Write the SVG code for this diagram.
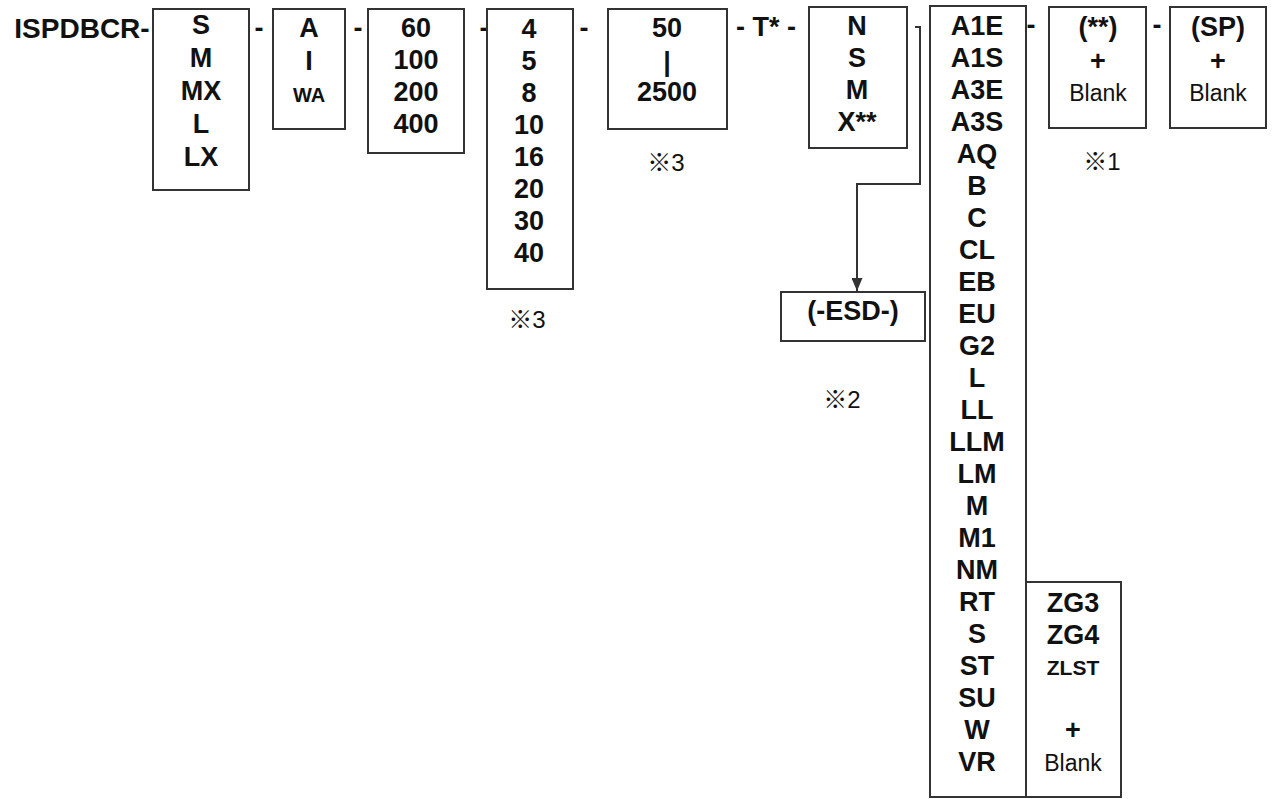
<svg xmlns="http://www.w3.org/2000/svg" width="1273" height="799" viewBox="0 0 1273 799">
<defs>
<style>
.box{fill:#fff;stroke:#333;stroke-width:2}
.b{font-family:"Liberation Sans",Arial,sans-serif;font-weight:bold;font-size:27px;fill:#111;text-anchor:middle}
.bs{font-family:"Liberation Sans",Arial,sans-serif;font-weight:bold;font-size:21px;fill:#111;text-anchor:middle}
.r{font-family:"Liberation Sans",Arial,sans-serif;font-size:23px;fill:#111;text-anchor:middle}
.n{font-family:"Liberation Sans","Noto Sans CJK JP",sans-serif;font-size:24px;fill:#111;text-anchor:middle}
.line{fill:none;stroke:#333;stroke-width:2}
</style>
<marker id="arr" viewBox="0 0 13 11" refX="13" refY="5.5" markerWidth="13" markerHeight="11" markerUnits="userSpaceOnUse" orient="auto">
<path d="M0,0 L13,5.5 L0,11 Z" fill="#333"/>
</marker>
</defs>
<rect width="1273" height="799" fill="#fff"/>

<g id="prefix">
<text x="82" y="38" class="b" style="font-size:28px">ISPDBCR-</text>
</g>

<g id="box-size">
<rect class="box" x="153" y="9" width="96" height="181"/>
<text class="b" x="201"><tspan x="201" y="34">S</tspan><tspan x="201" y="67">M</tspan><tspan x="201" y="100">MX</tspan><tspan x="201" y="133">L</tspan><tspan x="201" y="166">LX</tspan></text>
</g>
<g id="dash1"><text class="b" x="259" y="37">-</text></g>

<g id="box-type">
<rect class="box" x="273" y="9" width="72" height="120"/>
<text class="b"><tspan x="309" y="37">A</tspan><tspan x="309" y="70">I</tspan></text>
<text class="bs" x="309" y="102" style="font-size:20px">WA</text>
</g>
<g id="dash2"><text class="b" x="358" y="37">-</text></g>

<g id="box-60">
<rect class="box" x="368" y="9" width="96" height="144"/>
<text class="b"><tspan x="416" y="37">60</tspan><tspan x="416" y="69">100</tspan><tspan x="416" y="101">200</tspan><tspan x="416" y="133">400</tspan></text>
</g>
<g id="dash3"><text class="b" x="484" y="37">-</text></g>

<g id="box-4">
<rect class="box" x="487" y="9" width="86" height="280"/>
<text class="b"><tspan x="529" y="38">4</tspan><tspan x="529" y="70">5</tspan><tspan x="529" y="102">8</tspan><tspan x="529" y="134">10</tspan><tspan x="529" y="166">16</tspan><tspan x="529" y="198">20</tspan><tspan x="529" y="230">30</tspan><tspan x="529" y="262">40</tspan></text>
<text class="n" x="527" y="328">※3</text>
</g>
<g id="dash4"><text class="b" x="584" y="37">-</text></g>

<g id="box-50">
<rect class="box" x="608" y="9" width="119" height="120"/>
<text class="b"><tspan x="667" y="37">50</tspan><tspan x="667" y="71">|</tspan><tspan x="667" y="101">2500</tspan></text>
<text class="n" x="666" y="171">※3</text>
</g>

<g id="t-star"><text class="b" x="766" y="36">- T* -</text></g>

<g id="box-N">
<rect class="box" x="809" y="7" width="98" height="141"/>
<text class="b"><tspan x="857" y="35">N</tspan><tspan x="857" y="67">S</tspan><tspan x="857" y="99">M</tspan><tspan x="857" y="131">X**</tspan></text>
</g>

<g id="box-esd">
<rect class="box" x="781" y="292" width="144" height="49"/>
<text class="b" x="853" y="320">(-ESD-)</text>
<text class="n" x="842" y="408">※2</text>
</g>

<g id="box-options">
<rect class="box" x="930" y="6" width="96" height="791"/>
<text class="b"><tspan x="977" y="35">A1E</tspan><tspan x="977" y="67">A1S</tspan><tspan x="977" y="99">A3E</tspan><tspan x="977" y="131">A3S</tspan><tspan x="977" y="163">AQ</tspan><tspan x="977" y="195">B</tspan><tspan x="977" y="227">C</tspan><tspan x="977" y="259">CL</tspan><tspan x="977" y="291">EB</tspan><tspan x="977" y="323">EU</tspan><tspan x="977" y="355">G2</tspan><tspan x="977" y="387">L</tspan><tspan x="977" y="419">LL</tspan><tspan x="977" y="451">LLM</tspan><tspan x="977" y="483">LM</tspan><tspan x="977" y="515">M</tspan><tspan x="977" y="547">M1</tspan><tspan x="977" y="579">NM</tspan><tspan x="977" y="611">RT</tspan><tspan x="977" y="643">S</tspan><tspan x="977" y="675">ST</tspan><tspan x="977" y="707">SU</tspan><tspan x="977" y="739">W</tspan><tspan x="977" y="771">VR</tspan></text>
</g>
<g id="dash5"><text class="b" x="1031" y="34">-</text></g>

<g id="box-zg">
<rect class="box" x="1026" y="582" width="95" height="215"/>
<text class="b"><tspan x="1073" y="612">ZG3</tspan><tspan x="1073" y="644">ZG4</tspan></text>
<text class="bs" x="1073" y="675">ZLST</text>
<text class="b" x="1073" y="739">+</text>
<text class="r" x="1073" y="771">Blank</text>
</g>

<g id="box-star">
<rect class="box" x="1049" y="7" width="97" height="121"/>
<text class="b" x="1098" y="36">(**)</text>
<text class="b" x="1098" y="70">+</text>
<text class="r" x="1098" y="101">Blank</text>
<text class="n" x="1102" y="170">※1</text>
</g>
<g id="dash6"><text class="b" x="1157" y="34">-</text></g>

<g id="box-sp">
<rect class="box" x="1170" y="7" width="96" height="121"/>
<text class="b" x="1218" y="36">(SP)</text>
<text class="b" x="1218" y="70">+</text>
<text class="r" x="1218" y="101">Blank</text>
</g>

<g id="connectors">
<path class="line" d="M915,27 H920 V184 H857 V291" marker-end="url(#arr)"/>
</g>
</svg>
